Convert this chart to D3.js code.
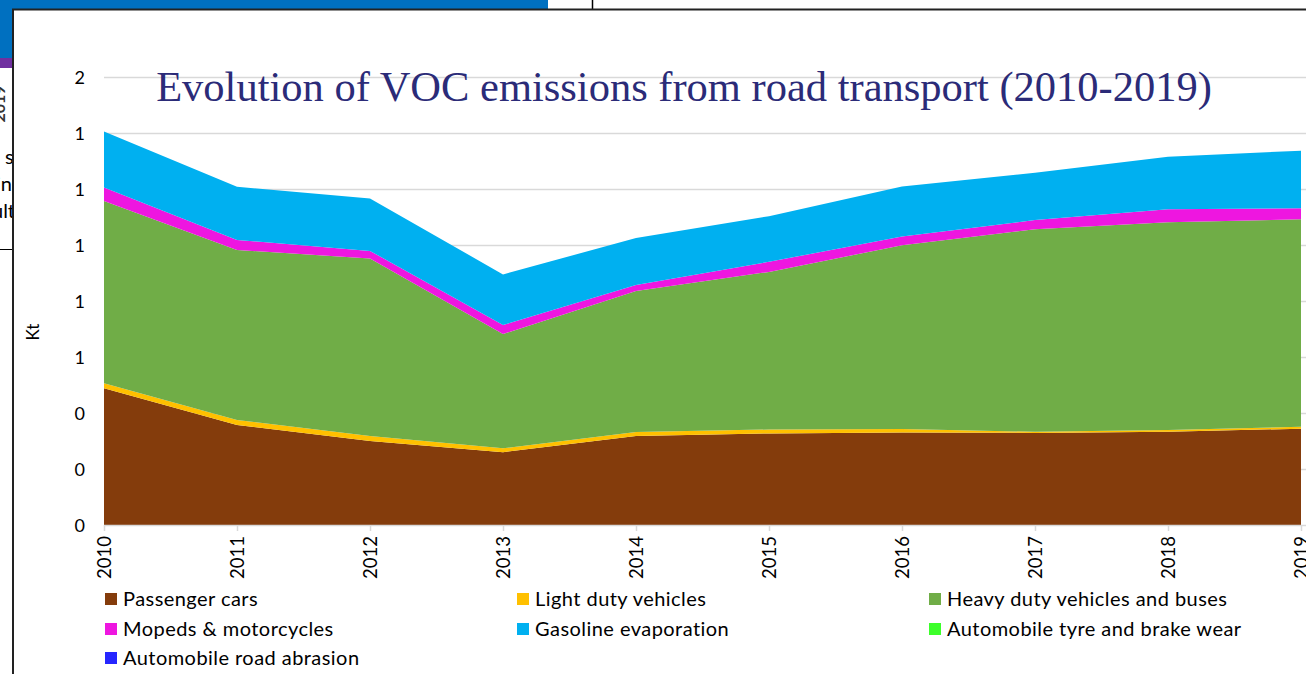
<!DOCTYPE html>
<html>
<head>
<meta charset="utf-8">
<script src="https://cdn.jsdelivr.net/npm/d3@7"></script>
<style>
  html, body { margin: 0; padding: 0; background: #fff; }
  svg { display: block; }
</style>
</head>
<body>
<svg id="chart" width="1306" height="674"></svg>
<script>
// ---- data ----
const years = [2010, 2011, 2012, 2013, 2014, 2015, 2016, 2017, 2018, 2019];
const passengerCars = [0.488, 0.357, 0.300, 0.260, 0.318, 0.327, 0.330, 0.329, 0.333, 0.344];
const lightDuty     = [0.018, 0.018, 0.018, 0.014, 0.014, 0.014, 0.013, 0.004, 0.006, 0.007];
const heavyDuty     = [0.651, 0.607, 0.634, 0.408, 0.504, 0.563, 0.656, 0.723, 0.742, 0.741];
const mopeds        = [0.048, 0.036, 0.027, 0.032, 0.021, 0.036, 0.031, 0.033, 0.047, 0.039];
const gasolineEvap  = [0.200, 0.190, 0.187, 0.181, 0.168, 0.163, 0.179, 0.169, 0.187, 0.206];
const tyreBrake     = [0, 0, 0, 0, 0, 0, 0, 0, 0, 0];
const roadAbrasion  = [0, 0, 0, 0, 0, 0, 0, 0, 0, 0];
const seriesNames = ["Passenger cars", "Light duty vehicles", "Heavy duty vehicles and buses",
  "Mopeds & motorcycles", "Gasoline evaporation", "Automobile tyre and brake wear", "Automobile road abrasion"];
const seriesColors = ["#843C0C", "#FFC000", "#70AD47", "#EE16E0", "#00B0F0", "#3CFF2A", "#2626FF"];
const yTickValues = [0, 0.2, 0.4, 0.6, 0.8, 1.0, 1.2, 1.4, 1.6];
const yTickLabels = ["0", "0", "0", "1", "1", "1", "1", "1", "2"];
const title = "Evolution of VOC emissions from road transport (2010-2019)";
const yAxisTitle = "Kt";

const seriesValues = [passengerCars, lightDuty, heavyDuty, mopeds, gasolineEvap, tyreBrake, roadAbrasion];
const table = years.map((y, i) => {
  const row = { year: y };
  seriesNames.forEach((n, k) => row[n] = seriesValues[k][i]);
  return row;
});

const svg = d3.select("#chart");
const sans = "Lato, 'Open Sans', sans-serif";

// ---- background (screenshot context) ----
svg.append("rect").attr("x", 0).attr("y", 0).attr("width", 548).attr("height", 58).attr("fill", "#0070C0");
svg.append("rect").attr("x", 0).attr("y", 58).attr("width", 14).attr("height", 10).attr("fill", "#7030A0");
svg.append("line").attr("x1", 592.5).attr("x2", 592.5).attr("y1", 0).attr("y2", 9).attr("stroke", "#000").attr("stroke-width", 1.5);
svg.append("line").attr("x1", 0).attr("x2", 14).attr("y1", 249.5).attr("y2", 249.5).attr("stroke", "#000").attr("stroke-width", 1);
const sideTxt = svg.append("g").attr("font-family", sans).attr("font-size", 20).attr("fill", "#000");
sideTxt.append("text").attr("x", 5).attr("y", 164).text("s");
sideTxt.append("text").attr("x", -4).attr("y", 191).text("in");
sideTxt.append("text").attr("x", -8).attr("y", 218).text("ult");
sideTxt.append("text").attr("transform", "translate(5,104) rotate(-90)").attr("text-anchor", "middle")
  .attr("font-size", 16).attr("font-weight", "bold").attr("fill", "#333").text("2019");

// chart frame
svg.append("rect").attr("x", 13).attr("y", 9.5).attr("width", 1320).attr("height", 700)
  .attr("fill", "#fff").attr("stroke", "#222").attr("stroke-width", 2);

// ---- scales ----
const x = d3.scalePoint().domain(years).range([104, 1301]);
const y = d3.scaleLinear().domain([0, 1.6]).range([525, 77]);

// gridlines
svg.append("g").selectAll("line").data(yTickValues.slice(1)).join("line")
  .attr("x1", 104).attr("x2", 1306)
  .attr("y1", d => Math.round(y(d)) + 0.5).attr("y2", d => Math.round(y(d)) + 0.5)
  .attr("stroke", "#D9D9D9").attr("stroke-width", 1.5);

// ---- stacked areas ----
const stack = d3.stack().keys(seriesNames);
const layers = stack(table);
const area = d3.area()
  .x(d => x(d.data.year))
  .y0(d => y(d[0]))
  .y1(d => y(d[1]));
svg.append("g").selectAll("path").data(layers).join("path")
  .attr("d", area)
  .attr("fill", (d, i) => seriesColors[i]);

// ---- title ----
svg.append("text").attr("x", 684).attr("y", 101).attr("text-anchor", "middle")
  .attr("font-family", "'Liberation Serif', 'Times New Roman', serif").attr("font-size", 42.5)
  .attr("fill", "#2B2B78").text(title);

// ---- y axis ----
const yAxis = d3.axisLeft(y).tickValues(yTickValues).tickSize(0).tickPadding(0)
  .tickFormat((d, i) => yTickLabels[i]);
const yg = svg.append("g").attr("transform", "translate(85,0)").call(yAxis);
yg.select(".domain").remove();
yg.selectAll("text").attr("font-family", sans).attr("font-size", 18).attr("fill", "#000").attr("dy", "0.35em");

svg.append("text").attr("transform", "translate(39,332) rotate(-90)").attr("text-anchor", "middle")
  .attr("font-family", sans).attr("font-size", 17).attr("fill", "#000").text(yAxisTitle);

// ---- x axis ----
const xAxis = d3.axisBottom(x).tickSize(6).tickPadding(0).tickSizeOuter(0);
const xg = svg.append("g").attr("transform", "translate(0,525)").call(xAxis);
xg.select(".domain").attr("stroke", "#D9D9D9").attr("stroke-width", 1.5).attr("d", "M104,0.5H1306");
xg.selectAll(".tick line").attr("stroke", "#D9D9D9").attr("stroke-width", 1.5);
xg.selectAll("text")
  .attr("font-family", sans).attr("font-size", 18.5).attr("fill", "#000")
  .attr("transform", "rotate(-90)").attr("text-anchor", "end")
  .attr("x", -11).attr("y", 0).attr("dy", "0.35em");

// ---- legend ----
const legendCols = [105, 517, 929];
const legendRows = [599, 629, 658];
const lg = svg.append("g").selectAll("g").data(seriesNames).join("g")
  .attr("transform", (d, i) => `translate(${legendCols[i % 3]},${legendRows[Math.floor(i / 3)]})`);
lg.append("rect").attr("x", 0).attr("y", -6).attr("width", 12).attr("height", 12)
  .attr("fill", (d, i) => seriesColors[i]);
lg.append("text").attr("x", 18).attr("y", 0).attr("dy", "0.35em")
  .attr("font-family", sans).attr("font-size", 20).attr("letter-spacing", 0.45).attr("fill", "#000")
  .text(d => d);
</script>
</body>
</html>
